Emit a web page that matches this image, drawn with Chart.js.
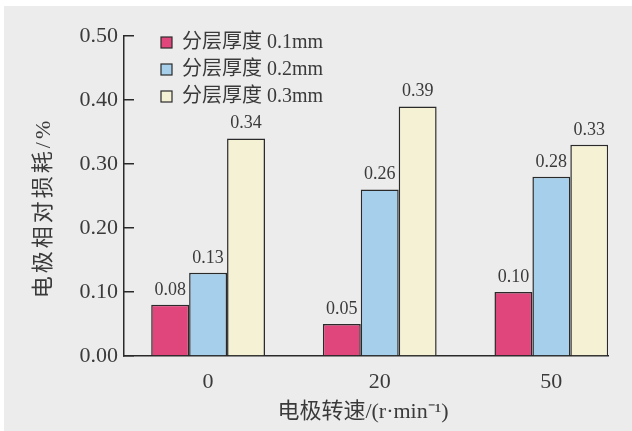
<!DOCTYPE html>
<html>
<head>
<meta charset="utf-8">
<script src="https://cdn.jsdelivr.net/npm/chart.js@4/dist/chart.umd.min.js"></script>
<style>
  html, body { margin: 0; padding: 0; background: #ffffff; }
  canvas { display: block; }
</style>
</head>
<body>
<canvas id="c" width="632" height="431"></canvas>
<script>
// Rotation speed categories (x axis) and electrode relative wear per layer thickness
const speeds = ['0', '20', '50'];
const seriesLabels = ['分层厚度 0.1mm', '分层厚度 0.2mm', '分层厚度 0.3mm'];
const wear01 = [0.08, 0.05, 0.10];
const wear02 = [0.13, 0.26, 0.28];
const wear03 = [0.34, 0.39, 0.33];
const yTicks = [0.00, 0.10, 0.20, 0.30, 0.40, 0.50];

const xTitle = '电极转速/(r·min⁻¹)';
const yTitle = '电极相对损耗/%';

const SERIF = "'Liberation Serif', 'Noto Sans CJK SC', serif";
const INK = '#3a3a3a';
const fills = ['#e0467c', '#a5cfeb', '#f5f1d4'];

const toPoints = arr => arr.map((v, i) => ({ x: i, y: v }));

// Paper-coloured backdrop
const backdrop = {
  id: 'backdrop',
  beforeDraw(chart) {
    const { ctx, width, height } = chart;
    ctx.save();
    ctx.fillStyle = '#ececec';
    ctx.fillRect(4, 6, width - 4, height - 6);
    ctx.restore();
  }
};

// Value labels above each bar
const valueLabels = {
  id: 'valueLabels',
  afterDatasetsDraw(chart) {
    const { ctx } = chart;
    ctx.save();
    ctx.font = '18px ' + SERIF;
    ctx.fillStyle = INK;
    ctx.textAlign = 'center';
    ctx.textBaseline = 'bottom';
    chart.data.datasets.forEach((ds, di) => {
      chart.getDatasetMeta(di).data.forEach((bar, i) => {
        ctx.fillText(ds.data[i].y.toFixed(2), bar.x, bar.y - 6);
      });
    });
    ctx.restore();
  }
};

// Legend block in the upper left of the plot, plus axis titles
const annotations = {
  id: 'annotations',
  afterDraw(chart) {
    const { ctx, chartArea } = chart;
    ctx.save();
    // legend
    const rows = [43, 70, 97];
    chart.data.datasets.forEach((ds, i) => {
      const y = rows[i];
      ctx.fillStyle = ds.backgroundColor;
      ctx.fillRect(161, y - 6, 11, 11);
      ctx.strokeStyle = '#2a2a2a';
      ctx.lineWidth = 1.2;
      ctx.strokeRect(161, y - 6, 11, 11);
      ctx.fillStyle = INK;
      ctx.font = '20px ' + SERIF;
      ctx.textAlign = 'left';
      ctx.textBaseline = 'middle';
      ctx.fillText(ds.label, 182, y);
    });
    // x title
    ctx.font = '22px ' + SERIF;
    ctx.textAlign = 'center';
    ctx.textBaseline = 'middle';
    ctx.fillText(xTitle, 363, 412);
    // y title
    ctx.translate(44, 208);
    ctx.rotate(-Math.PI / 2);
    ctx.font = '22px ' + SERIF;
    ctx.letterSpacing = '3px';
    ctx.fillText(yTitle, 0, 0);
    ctx.restore();
  }
};

new Chart(document.getElementById('c'), {
  type: 'bar',
  data: {
    datasets: [
      { label: seriesLabels[0], data: toPoints(wear01), backgroundColor: fills[0] },
      { label: seriesLabels[1], data: toPoints(wear02), backgroundColor: fills[1] },
      { label: seriesLabels[2], data: toPoints(wear03), backgroundColor: fills[2] }
    ]
  },
  options: {
    responsive: false,
    animation: false,
    devicePixelRatio: 1,
    layout: { padding: { top: 36, right: 24, left: 0, bottom: 0 } },
    datasets: {
      bar: {
        borderColor: '#2a2a2a',
        borderWidth: 1.5,
        categoryPercentage: 0.663,
        barPercentage: 1.0
      }
    },
    plugins: {
      legend: { display: false },
      tooltip: { enabled: false }
    },
    scales: {
      x: {
        type: 'linear',
        offset: false,
        bounds: 'data',
        min: -0.49,
        max: 2.33,
        afterBuildTicks(scale) {
          scale.ticks = speeds.map((_, i) => ({ value: i }));
        },
        afterFit(scale) { scale.height = 75; },
        grid: { display: false, drawTicks: false, offset: false },
        border: { display: true, color: '#2a2a2a', width: 1.5 },
        ticks: {
          autoSkip: false,
          padding: 13,
          color: INK,
          font: { family: SERIF, size: 22 },
          callback: v => speeds[v]
        }
      },
      y: {
        min: 0,
        max: 0.5,
        afterBuildTicks(scale) {
          scale.ticks = yTicks.map(v => ({ value: v }));
        },
        afterFit(scale) { scale.width = 124; },
        grid: {
          display: true,
          drawOnChartArea: false,
          drawTicks: true,
          tickLength: -10,
          color: '#2a2a2a',
          lineWidth: 1.5
        },
        border: { display: true, color: '#2a2a2a', width: 1.5 },
        ticks: {
          padding: 16,
          color: INK,
          font: { family: SERIF, size: 22 },
          callback: v => v.toFixed(2)
        }
      }
    }
  },
  plugins: [backdrop, valueLabels, annotations]
});
</script>
</body>
</html>
